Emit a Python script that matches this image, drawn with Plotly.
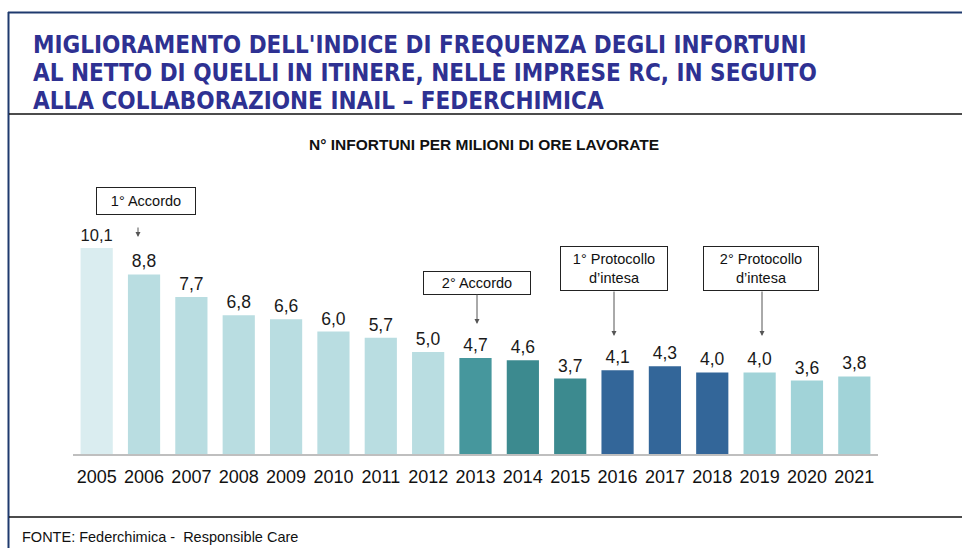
import plotly.graph_objects as go

years = ["2005", "2006", "2007", "2008", "2009", "2010", "2011", "2012", "2013",
         "2014", "2015", "2016", "2017", "2018", "2019", "2020", "2021"]
values = [10.1, 8.8, 7.7, 6.8, 6.6, 6.0, 5.7, 5.0, 4.7, 4.6, 3.7, 4.1, 4.3, 4.0, 4.0, 3.6, 3.8]
bar_colors = ["#DAEDF0"] + ["#B9DDE1"] * 7 + ["#46979D", "#3C8A8F", "#3C8A8F"] + \
             ["#336699"] * 3 + ["#A1D3D8"] * 3

title_lines = ["MIGLIORAMENTO DELL'INDICE DI FREQUENZA DEGLI INFORTUNI",
               "AL NETTO DI QUELLI IN ITINERE, NELLE IMPRESE RC, IN SEGUITO",
               "ALLA COLLABORAZIONE INAIL – FEDERCHIMICA"]
subtitle = "N° INFORTUNI PER MILIONI DI ORE LAVORATE"
source = "FONTE: Federchimica -\u00a0 Responsible Care"

W, H = 962, 548
L, R, T, B = 73, 84, 150, 94
PW, PH = W - L - R, H - T - B
PX_PER_UNIT = 20.4
ymax = PH / PX_PER_UNIT


def px(x):
    return (x - L) / PW


def py(y):
    return (H - B - y) / PH


fig = go.Figure()
fig.add_trace(go.Bar(
    x=years, y=values, marker=dict(color=bar_colors, line=dict(width=0)),
    texttemplate="%{y:.1f}", textposition="outside", cliponaxis=False,
    textfont=dict(size=17.5, color="#1a1a1a", family="Liberation Sans, Arial"),
    hoverinfo="x+y",
))

shapes = [
    dict(type="line", xref="paper", yref="paper", x0=px(8), x1=px(962), y0=py(12.5), y1=py(12.5),
         line=dict(color="#1F3A6E", width=2)),
    dict(type="line", xref="paper", yref="paper", x0=px(8.5), x1=px(8.5), y0=py(12), y1=py(548),
         line=dict(color="#1F3A6E", width=2)),
    dict(type="line", xref="paper", yref="paper", x0=px(9), x1=px(962), y0=py(114), y1=py(114),
         line=dict(color="#111111", width=1.5)),
    dict(type="line", xref="paper", yref="paper", x0=px(9), x1=px(962), y0=py(517), y1=py(517),
         line=dict(color="#111111", width=1.5)),
]

annotations = []
for i, line in enumerate(title_lines):
    annotations.append(dict(
        text=line, xref="paper", yref="paper", x=px(31), y=py(45 + 28 * i),
        xanchor="left", yanchor="middle", showarrow=False,
        font=dict(family="Liberation Sans Narrow, DejaVu Sans Condensed, Arial Narrow", size=24,
                  color="#2E3192", weight="bold"),
    ))
annotations.append(dict(
    text="<b>" + subtitle + "</b>", xref="paper", yref="paper", x=px(484), y=py(144),
    xanchor="center", yanchor="middle", showarrow=False,
    font=dict(family="Liberation Sans, Arial", size=15.5, color="#111111"),
))
annotations.append(dict(
    text=source, xref="paper", yref="paper", x=px(20), y=py(537),
    xanchor="left", yanchor="middle", showarrow=False,
    font=dict(family="Liberation Sans, Arial", size=14.5, color="#111111"),
))

boxes = [
    ("1° Accordo", 146, 201, 94, 22),
    ("2° Accordo", 477, 283, 102, 18),
    ("1° Protocollo<br>d’intesa", 614, 268.5, 102, 39),
    ("2° Protocollo<br>d’intesa", 761, 268.5, 110, 39),
]
for text, cx, cy, w, h in boxes:
    annotations.append(dict(
        text=text, xref="paper", yref="paper", x=px(cx), y=py(cy),
        xanchor="center", yanchor="middle", showarrow=False,
        width=w, height=h, borderpad=2, bordercolor="#222222", borderwidth=1,
        bgcolor="white", align="center",
        font=dict(family="Liberation Sans, Arial", size=14.5, color="#111111"),
    ))

arrows = [(138, 226, 237), (477, 293, 324), (614, 290, 336), (762, 290, 336)]
for ax_, y0, y1 in arrows:
    annotations.append(dict(
        text="", xref="paper", yref="paper", x=px(ax_), y=py(y1),
        ax=0, ay=-(y1 - y0), showarrow=True, arrowhead=2, arrowsize=1,
        arrowwidth=1, arrowcolor="#555555", standoff=0,
    ))

fig.update_layout(
    width=W, height=H, margin=dict(l=L, r=R, t=T, b=B, pad=0),
    paper_bgcolor="white", plot_bgcolor="white",
    separators=",.", bargap=0.32, showlegend=False,
    shapes=shapes, annotations=annotations,
    font=dict(family="Liberation Sans, Arial", color="#111111"),
    xaxis=dict(type="category", range=[-0.5, len(years) - 0.5], showline=True,
               linecolor="#BFBFBF", linewidth=2, ticks="", showgrid=False,
               tickfont=dict(size=18, color="#111111"), ticklabelstandoff=5),
    yaxis=dict(range=[0, ymax], visible=False, showgrid=False, zeroline=False),
)

fig.write_html("out.html")
